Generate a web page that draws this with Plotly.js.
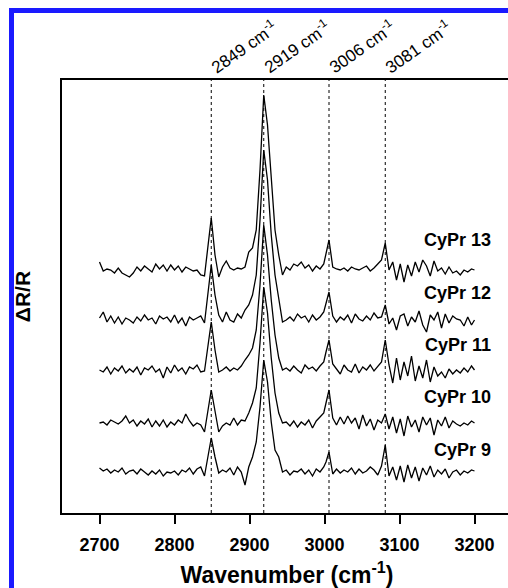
<!DOCTYPE html>
<html>
<head>
<meta charset="utf-8">
<script src="https://cdn.plot.ly/plotly-3.0.1.min.js"></script>
<style>
html,body{margin:0;padding:0;background:#fff;overflow:hidden;width:508px;height:588px;}
#frame{position:absolute;left:9px;top:8px;width:600px;height:700px;border-left:5px solid #1a1aff;border-top:5px solid #1a1aff;pointer-events:none;z-index:5;}
#wrap{position:absolute;left:0;top:0;width:508px;height:588px;overflow:hidden;}
#chart{position:absolute;left:0;top:0;}
</style>
</head>
<body>
<div id="wrap"><div id="chart"></div></div>
<div id="frame"></div>
<script>
// Wavenumber grid (cm-1)
const wavenumber = [
2700,2705,2710,2715,2720,2725,2730,2735,2740,2745,
2750,2755,2760,2765,2770,2775,2780,2785,2790,2795,
2800,2805,2810,2815,2820,2825,2830,2835,2840,
2844,2849,2854,
2859,2864,2869,2874,2879,2884,2889,2894,
2899,2904,2909,2914,2919,2924,2929,2934,2939,2944,
2949,2954,2959,2964,2969,2974,2979,2984,2989,2994,2999,
3002,3006,
3011,3016,3021,3026,3031,3036,3041,3046,3051,3056,3061,3066,3071,3076,
3081,
3086,3091,3096,3101,3106,3111,3116,3121,3126,3131,3136,3141,3146,3151,3156,3161,3166,3171,3176,3181,3186,3191,3196,3200
];

// Relative signal (arbitrary units) for each sample
const cypr13 = [
8,-1,1,0,-3,2,-3,-5,-7,-3,
3,-1,4,1,-2,6,1,5,-1,5,
0,4,-2,3,1,-1,0,-5,-6,
18,52,15,
-7,3,9,2,0,2,1,3,
18,22,40,100,175,145,90,40,15,-5,
3,0,6,4,8,2,5,-1,4,1,6,
15,30,
3,1,0,2,-1,3,1,0,2,4,-1,2,6,10,
27,
0,8,-10,6,-12,5,-6,8,-2,10,4,-6,9,-1,2,-4,3,-3,-1,-5,0,-2,1,0
];
const cypr12 = [
2,8,-2,4,-3,3,-4,2,0,-3,
3,-1,5,0,2,-4,4,1,3,-2,
5,-3,2,-6,3,0,2,4,-3,
22,55,25,
5,-2,8,0,-2,6,2,10,
15,25,45,100,170,140,85,45,20,-2,
0,3,-1,6,2,4,-2,5,0,3,8,
16,28,
4,-2,3,0,5,-3,6,1,-1,4,0,7,2,3,
15,
-4,2,-10,4,6,-6,3,-2,9,-5,-12,5,0,8,-8,6,-3,4,1,0,-6,3,-5,0
];
const cypr11 = [
0,-2,3,-4,2,-1,4,-3,1,-2,
3,-5,2,0,4,-2,1,-8,3,-3,
5,-1,2,-4,3,1,5,-2,-1,
22,48,20,
-2,0,3,-1,2,0,4,10,
15,22,40,85,145,115,70,35,12,0,
2,-1,4,0,-3,5,1,3,-1,4,8,
18,30,
6,1,-4,5,0,-2,6,-3,3,0,5,-1,4,8,
30,
5,-13,12,-10,8,-6,14,-11,4,-8,10,-12,3,-6,-2,-8,1,-4,0,-3,2,-2,4,0
];
const cypr10 = [
0,1,-2,3,1,-1,2,7,0,3,
-3,2,-1,4,-4,2,-3,3,-4,1,
-2,3,0,9,2,-3,0,-2,-9,
10,33,12,
-9,-3,0,-2,5,-2,3,2,
10,20,35,80,136,110,65,30,10,0,
1,-3,2,-4,1,-2,3,-5,2,6,10,
20,33,
5,-2,6,-1,7,0,5,-6,8,-3,4,-7,3,0,
9,
-6,6,-10,4,-13,7,-4,3,-9,6,-2,5,-12,3,-3,6,-5,2,-1,-3,0,-2,2,0
];
const cypr9 = [
4,1,3,-1,2,0,4,-2,1,2,
-2,3,0,-3,1,-2,2,-4,0,-1,
1,-3,2,0,4,-2,3,5,-4,
12,34,15,
-1,2,0,4,-3,5,0,-13,
5,15,30,65,112,90,50,22,15,0,
2,-3,1,0,3,-2,2,-4,3,0,5,
10,20,
-2,3,-1,2,0,4,-2,3,-1,1,5,2,-3,6,
27,
-4,5,-8,6,-10,7,-6,5,-9,4,-3,6,-5,2,-2,3,-6,0,2,-3,1,-1,2,1
];

const seriesNames = ['CyPr 13','CyPr 12','CyPr 11','CyPr 10','CyPr 9'];
const seriesValues = [cypr13, cypr12, cypr11, cypr10, cypr9];
const seriesOffsets = [243, 193, 143, 90, 41];
const labelOffsets = [30, 27, 25, 26, 22];
const labelX = 3224;
const peakPositions = [2849, 2919, 3006, 3081];
const peakLabels = ['2849 cm<sup>-1</sup>','2919 cm<sup>-1</sup>','3006 cm<sup>-1</sup>','3081 cm<sup>-1</sup>'];
const xTicks = [2700, 2800, 2900, 3000, 3100, 3200];

const FONT = 'Arial, "Liberation Sans", Helvetica, sans-serif';

const traces = seriesValues.map((vals, i) => ({
  x: wavenumber,
  y: vals.map(v => v + seriesOffsets[i]),
  type: 'scatter',
  mode: 'lines',
  name: seriesNames[i],
  line: {color: '#000', width: 1.3},
  hoverinfo: 'skip'
}));

const annotations = [];
seriesNames.forEach((n, i) => {
  annotations.push({
    x: labelX, y: seriesOffsets[i] + labelOffsets[i],
    xref: 'x', yref: 'y',
    text: n, showarrow: false,
    xanchor: 'right', yanchor: 'middle',
    font: {family: FONT, size: 18, color: '#000', weight: 'bold'}
  });
});
peakPositions.forEach((p, i) => {
  annotations.push({
    x: p, y: 1, xref: 'x', yref: 'paper',
    text: peakLabels[i], showarrow: false,
    textangle: -35,
    xanchor: 'left', yanchor: 'bottom',
    xshift: -7, yshift: 0,
    font: {family: FONT, size: 17, color: '#000'}
  });
});

const shapes = peakPositions.map(p => ({
  type: 'line', xref: 'x', yref: 'paper',
  x0: p, x1: p, y0: 0, y1: 1,
  line: {color: '#000', width: 1, dash: 'dot'}
}));

const layout = {
  width: 530, height: 588,
  margin: {l: 62, r: 18, t: 80, b: 75},
  paper_bgcolor: '#fff', plot_bgcolor: '#fff',
  showlegend: false,
  xaxis: {
    range: [2650, 3250],
    tickvals: xTicks,
    ticktext: xTicks.map(String),
    ticks: 'outside', ticklen: 9, tickwidth: 2, tickcolor: '#000',
    ticklabelstandoff: 5,
    showline: true, linewidth: 2, linecolor: '#000', mirror: true,
    showgrid: false, zeroline: false,
    tickfont: {family: FONT, size: 18, color: '#000', weight: 'bold'},
    title: {text: 'Wavenumber (cm<sup>-1</sup>)', standoff: 17,
            font: {family: FONT, size: 23, color: '#000', weight: 'bold'}}
  },
  yaxis: {
    range: [0, 433],
    showticklabels: false, ticks: '',
    showline: true, linewidth: 2, linecolor: '#000', mirror: true,
    showgrid: false, zeroline: false,
    title: {text: 'ΔR/R', standoff: 24,
            font: {family: FONT, size: 21, color: '#000', weight: 'bold'}}
  },
  annotations: annotations,
  shapes: shapes
};

Plotly.newPlot('chart', traces, layout, {staticPlot: true, displayModeBar: false});
</script>
</body>
</html>
